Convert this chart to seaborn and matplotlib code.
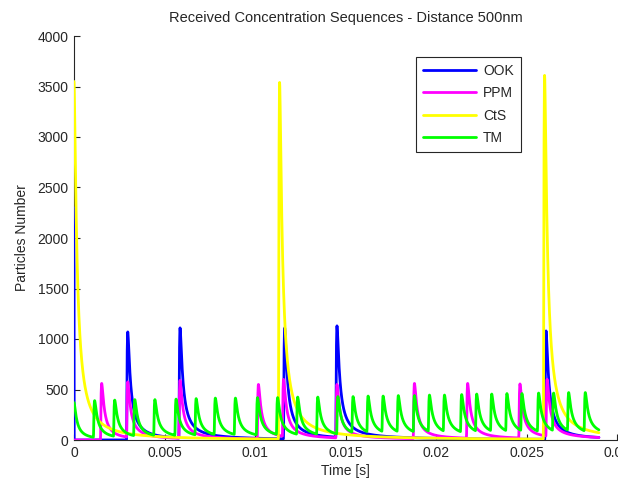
import numpy as np
import pandas as pd
import matplotlib
matplotlib.use("Agg")
import matplotlib.pyplot as plt
import seaborn as sns

# ---- data ----
schemes = ["OOK", "PPM", "CtS", "TM"]
colors = ["#0000ff", "#ff00ff", "#ffff00", "#00ff00"]

# peak times [s] and peak heights [particles] of each received pulse
ook_times = [0.00297, 0.00586, 0.01164, 0.01453, 0.02608]
ook_heights = [1070, 1110, 1110, 1130, 1080]
ook_first_sample = 2300

ppm_times = [0.00153, 0.00297, 0.00586, 0.01019, 0.01158, 0.01453,
             0.01881, 0.02175, 0.02464, 0.02614]
ppm_heights = [560, 575, 590, 550, 600, 550, 560, 560, 555, 600]

cts_times = [0.0, 0.01136, 0.02600]
cts_heights = [3550, 3540, 3610]

tm_times = [0.0, 0.00114, 0.00225, 0.00336, 0.00447, 0.00564, 0.00675,
            0.00781, 0.00892, 0.01014, 0.01125, 0.01236, 0.01347, 0.01458,
            0.01542, 0.01625, 0.01708, 0.01792, 0.01881, 0.01964, 0.02047,
            0.02142, 0.02225, 0.02308, 0.02392, 0.02475, 0.02567, 0.02650,
            0.02733, 0.02825]
tm_heights = [370, 390, 395, 400, 400, 405, 410, 415, 415, 420, 420, 425,
              425, 430, 430, 435, 435, 440, 440, 445, 445, 450, 455, 455,
              460, 460, 465, 465, 470, 470]

xtick_values = [0, 0.005, 0.01, 0.015, 0.02, 0.025, 0.03]
xtick_labels = ["0", "0.005", "0.01", "0.015", "0.02", "0.025", "0.03"]
ytick_values = [0, 500, 1000, 1500, 2000, 2500, 3000, 3500, 4000]

# ---- build the received sequences (diffusion pulse shape) ----
TP = 0.00008  # time from release to peak
t = np.arange(0, 0.029 + 1e-9, 1e-5)


def pulse_train(times, heights):
    y = np.zeros_like(t)
    for tk, hk in sorted(zip(times, heights)):
        s = np.maximum(t - tk + TP, 1e-9)
        shape = (TP / s) ** 1.5 * np.exp(1.5 * (1 - TP / s))
        shape[t - tk + TP <= 0] = 0
        resid = np.interp(tk, t, y)
        y += max(hk - resid, 0) * shape
    return y


ook = pulse_train(ook_times, ook_heights)
ook[0] = ook_first_sample
series = {
    "OOK": ook,
    "PPM": pulse_train(ppm_times, ppm_heights),
    "CtS": pulse_train(cts_times, cts_heights),
    "TM": pulse_train(tm_times, tm_heights),
}

df = pd.concat([pd.DataFrame({"time": t, "particles": v, "scheme": k})
                for k, v in series.items()], ignore_index=True)

# ---- plot ----
sns.set_style("ticks")
plt.rcParams["font.family"] = ["Liberation Sans", "DejaVu Sans"]
plt.rcParams["font.size"] = 10

fig = plt.figure(figsize=(6.18, 4.87), dpi=100)
ax = fig.add_axes([74 / 618, 47 / 487, 543 / 618, 404 / 487])

sns.lineplot(data=df, x="time", y="particles", hue="scheme",
             hue_order=schemes, palette=colors, estimator=None, sort=False,
             legend=False, linewidth=2.0, zorder=3, ax=ax)

ax.set_xlim(0, 0.03)
ax.set_ylim(0, 4000)
ax.set_xticks(xtick_values)
ax.set_xticklabels(xtick_labels)
ax.set_yticks(ytick_values)
ax.tick_params(direction="in", length=4, width=0.8, colors="#262626",
               labelsize=10, pad=4)
sns.despine(ax=ax)
for sp in ["left", "bottom"]:
    ax.spines[sp].set_color("#262626")
    ax.spines[sp].set_linewidth(0.8)

ax.set_title("Received Concentration Sequences - Distance 500nm",
             fontsize=10.5, pad=10)
ax.set_xlabel("Time [s]", fontsize=10, labelpad=3)
ax.set_ylabel("Particles Number", fontsize=10, labelpad=6)

leg = ax.legend(handles=ax.get_lines()[:4], labels=schemes,
                loc="upper right", bbox_to_anchor=(0.823, 0.948),
                borderaxespad=0, fancybox=False, framealpha=1,
                edgecolor="#262626", handlelength=3.8, handletextpad=0.55,
                labelspacing=0.6, borderpad=0.5, fontsize=10)
leg.get_frame().set_linewidth(0.8)
leg.set_zorder(5)

fig.savefig("out.png", dpi=100)
